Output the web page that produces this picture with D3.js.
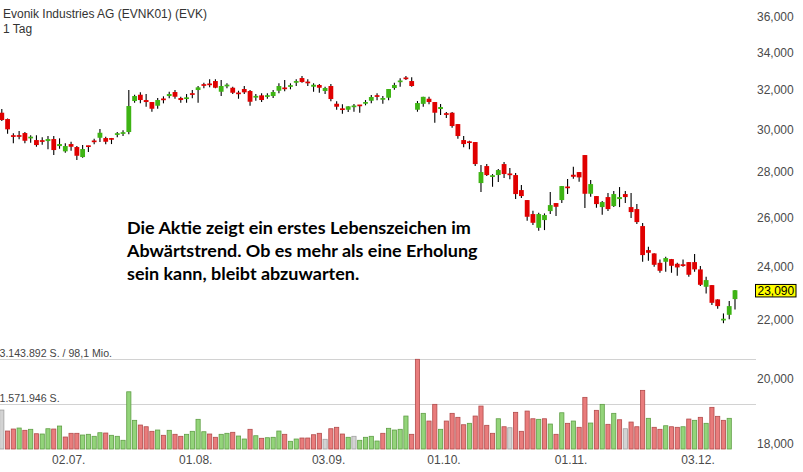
<!DOCTYPE html>
<html><head><meta charset="utf-8">
<script src="https://cdn.jsdelivr.net/npm/d3@7"></script>
<style>
html,body{margin:0;padding:0;background:#fff;}
svg{display:block;}
</style></head>
<body>
<svg id="chart" width="803" height="472"></svg>
<script>
// ---- data ----
const title = "Evonik Industries AG (EVNK01) (EVK)";
const subtitle = "1 Tag";
const openPrices = [
30813,30498,29676,29680,29812,29585,29474,29436,29426,29522,
29188,28938,29283,29141,28671,29190,29420,29584,29570,29570,
29755,29805,29861,31404,31727,31455,31353,31165,31498,31660,
31867,31557,31506,31799,31971,32240,32275,32441,31882,32180,
32090,31807,32023,31919,31615,31696,31652,31660,31934,32067,
32172,32352,32600,32375,32143,32232,31919,32180,31266,31033,
30963,31128,31190,31266,31419,31668,31470,31573,32075,32418,
32592,32441,30963,31261,31521,31353,30998,30755,30813,30250,
29474,29380,29379,27484,28254,27790,27844,28346,27885,27844,
27173,26735,26133,25557,25879,26260,26605,26735,27300,27858,
27980,28764,27010,26910,26432,26865,26475,26778,26997,26432,
26346,25628,24647,24515,24143,24183,24289,24104,24060,24171,
24171,23886,23220,23284,22749,21990,22186,22760];
const highPrices = [
30998,30530,29797,29909,29861,29700,29700,29604,29667,29667,
29556,29317,29393,29188,29236,29200,29536,30006,29633,29575,
29861,29943,31971,31727,31851,31763,31360,31557,31645,31882,
31971,31624,31763,31971,32180,32352,32530,32530,32493,32320,
32143,31934,32180,31971,31763,31799,31799,31971,32320,32493,
32320,32530,32706,32530,32320,32284,32143,32284,31389,31236,
31140,31251,31195,31455,31712,31799,31660,32030,32352,32584,
32706,32637,31404,31624,31624,31360,31251,30848,30848,30255,
29667,29441,29385,28300,28346,27889,28117,28438,28162,27934,
27395,26740,26274,26188,26162,27085,26610,27355,27663,28223,
27985,28770,27618,26915,26691,27041,27129,27306,27129,27041,
26561,25753,24780,24520,24278,24381,24295,24143,24278,24175,
24488,24014,23601,23290,22755,22236,22686,23095];
const lowPrices = [
30400,29778,29317,29508,29317,29346,29155,29250,29032,28764,
29060,28872,28966,28531,28638,28905,29270,29379,29270,29283,
29604,29667,29749,31317,31286,31115,30863,31013,31286,31541,
31521,31317,31317,31541,31317,32059,32111,32059,31660,32059,
31763,31521,31763,31165,31419,31353,31521,31557,31799,31903,
32008,32180,32352,32180,31882,31830,31763,31389,30963,30762,
30848,30863,30813,31185,31286,31440,31266,31440,31987,32143,
32493,32143,30863,31115,31236,30315,30697,30548,30070,29536,
29126,29032,28254,27085,27798,27319,27529,27708,27650,26778,
26822,25850,25670,25433,25462,26133,26049,26605,26997,27676,
27542,26389,26879,26401,26104,26261,26432,26432,26605,25964,
25712,24183,24222,23987,23755,23794,23755,23639,23987,23601,
23794,23246,22970,22539,22407,21886,22025,22382];
const closePrices = [
30449,29992,29657,29660,29441,29605,29236,29418,29522,28999,
29283,29188,29155,28731,29046,29175,29405,29826,29393,29488,
29770,29820,31150,31660,31455,31353,31013,31455,31482,31763,
31624,31455,31593,31727,32111,32225,32260,32090,32180,32232,
31830,31790,31851,31368,31632,31455,31668,31867,32180,32050,
32188,32441,32388,32360,32247,32090,32075,31506,31115,30948,
31135,31140,31175,31353,31609,31652,31557,32023,32232,32432,
32578,32180,31302,31619,31353,30813,31099,30740,30153,29667,
29283,29365,28346,27980,27844,27805,28071,27889,27870,26997,
26910,26019,25766,26133,26091,26518,26444,27350,27285,27767,
27740,27010,27439,26561,26648,26346,26997,26865,26865,26218,
25795,24448,24540,24065,23832,24329,24026,23963,24045,23678,
23886,23295,23474,22623,22502,22040,22502,23090];
const volumes = [
1365000,630000,700000,735000,655000,690000,535000,525000,710000,700000,
805000,420000,550000,550000,490000,515000,445000,570000,560000,480000,
445000,305000,2005000,1005000,840000,780000,620000,665000,480000,655000,
515000,445000,515000,620000,1040000,605000,525000,410000,515000,550000,
585000,455000,350000,690000,465000,375000,395000,410000,630000,515000,
270000,350000,385000,385000,500000,550000,340000,710000,760000,525000,
410000,445000,305000,410000,445000,280000,550000,725000,665000,690000,
1155000,515000,3143892,1250000,980000,1565000,690000,980000,1250000,1110000,
850000,900000,1155000,1505000,830000,550000,1060000,780000,745000,1285000,
620000,1330000,1060000,1040000,1060000,875000,515000,1270000,900000,980000,
760000,1810000,910000,1355000,1565000,865000,1250000,1025000,710000,945000,
780000,2055000,1075000,760000,690000,815000,780000,760000,780000,1050000,
1005000,1110000,900000,1460000,1145000,1005000,1075000,null];
// u = up day, d = down day, n = unchanged (colour of the volume bar)
const volumeDirection = [
"n","d","d","u","d","u","d","u","u","d",
"u","d","d","d","u","u","u","u","d","u",
"u","u","u","u","d","d","d","u","d","u",
"d","d","u","u","u","u","d","d","u","u",
"d","u","u","d","u","d","u","u","u","d",
"u","u","d","d","d","d","n","d","d","d",
"u","n","u","u","u","u","d","u","u","u",
"u","d","d","u","d","d","u","d","d","d",
"d","u","d","d","d","d","u","d","n","d",
"d","d","d","u","d","u","d","u","d","u",
"d","d","u","d","u","d","u","d","n","d",
"d","d","u","d","d","u","d","d","u","d",
"u","d","u","d","d","d","u",null];
const volumeMax = 3143892;
const volumeGridValues = [1571946, 3143892];
const volumeGridLabels = ["1.571.946 S.", "3.143.892 S. / 98,1 Mio."];
const priceTicks = [18000,20000,22000,24000,26000,28000,30000,32000,34000,36000];
const lastPrice = 23090;
const dateTickIndex = [12, 34, 57, 77, 99, 121];
const dateTickLabels = ["02.07.", "01.08.", "03.09.", "01.10.", "01.11.", "03.12."];
const noteLines = [
  "Die Aktie zeigt ein erstes Lebenszeichen im",
  "Abwärtstrend. Ob es mehr als eine Erholung",
  "sein kann, bleibt abzuwarten."
];

// ---- drawing ----
const svg = d3.select("#chart");
const FONT = "'Liberation Sans', Arial, sans-serif";
const n = closePrices.length;
const candles = d3.range(n).map(i => ({i, o: openPrices[i], h: highPrices[i], l: lowPrices[i], c: closePrices[i]}));

const x = d3.scaleLinear().domain([0, n - 1]).range([1.8, 735]);
const y = d3.scaleLog().domain([22000, 36000]).range([320, 17]);
const yv = d3.scaleLinear().domain([0, volumeMax]).range([449, 359.3]);

// volume grid lines
svg.append("g").selectAll("line").data(volumeGridValues).join("line")
  .attr("x1", 0).attr("x2", 756)
  .attr("y1", d => Math.round(yv(d)) + 0.5).attr("y2", d => Math.round(yv(d)) + 0.5)
  .attr("stroke", "#d2d2d2").attr("stroke-width", 1);
svg.append("g").selectAll("text").data(volumeGridValues).join("text")
  .attr("x", -0.5).attr("y", d => yv(d) - 2.5)
  .attr("font-family", FONT).attr("font-size", 10.6).attr("fill", "#444")
  .text((d, k) => volumeGridLabels[k]);

// volume bars
const volFill = {u: "#93d47a", d: "#e97c7c", n: "#d3d3d3"};
const volStroke = {u: "#5f9e45", d: "#b24b4b", n: "#a0a0a0"};
const volData = d3.range(n).filter(i => volumes[i] != null).map(i => ({i, v: volumes[i], dir: volumeDirection[i]}));
svg.append("g").selectAll("rect").data(volData).join("rect")
  .attr("x", d => x(d.i) - 2.1)
  .attr("y", d => yv(d.v))
  .attr("width", 4.2)
  .attr("height", d => yv(0) - yv(d.v))
  .attr("fill", d => volFill[d.dir])
  .attr("stroke", d => volStroke[d.dir])
  .attr("stroke-width", 0.8);

// candle wicks
svg.append("g").selectAll("line").data(candles).join("line")
  .attr("x1", d => x(d.i)).attr("x2", d => x(d.i))
  .attr("y1", d => y(d.h)).attr("y2", d => y(d.l))
  .attr("stroke", "#000").attr("stroke-width", 1.1);

// candle bodies
svg.append("g").selectAll("rect").data(candles).join("rect")
  .attr("x", d => x(d.i) - 2.4)
  .attr("width", 4.8)
  .attr("y", d => {
    const top = y(Math.max(d.o, d.c)), bot = y(Math.min(d.o, d.c));
    const h = bot - top;
    return h < 1.7 ? (top + bot) / 2 - 0.85 : top;
  })
  .attr("height", d => Math.max(1.7, y(Math.min(d.o, d.c)) - y(Math.max(d.o, d.c))))
  .attr("fill", d => d.c >= d.o ? "#3eb414" : "#e00000");

// right price axis
const axis = d3.axisRight(y).tickValues(priceTicks).tickSize(0).tickPadding(0)
  .tickFormat(d3.format(","));
const ag = svg.append("g").attr("transform", "translate(757,0)").call(axis);
ag.select(".domain").remove();
ag.selectAll("text").attr("font-family", FONT).attr("font-size", 12).attr("fill", "#4a4a4a")
  .attr("text-anchor", "start").attr("x", 0);

// last price marker
const ly = y(lastPrice);
svg.append("rect").attr("x", 755.5).attr("y", ly - 5.8).attr("width", 40.5).attr("height", 12.5)
  .attr("fill", "#ffff00").attr("stroke", "#000").attr("stroke-width", 1);
svg.append("text").attr("x", 757.5).attr("y", ly).attr("dy", "0.36em")
  .attr("font-family", FONT).attr("font-size", 12).attr("fill", "#000")
  .text(d3.format(",")(lastPrice));

// date axis labels
svg.append("g").selectAll("text").data(dateTickIndex).join("text")
  .attr("x", d => x(d) - 2.3).attr("y", 464)
  .attr("text-anchor", "middle")
  .attr("font-family", FONT).attr("font-size", 12).attr("fill", "#4a4a4a")
  .text((d, k) => dateTickLabels[k]);

// title
svg.append("text").attr("x", 3).attr("y", 18).attr("font-family", FONT).attr("font-size", 12)
  .attr("fill", "#333").text(title);
svg.append("text").attr("x", 3).attr("y", 33).attr("font-family", FONT).attr("font-size", 12)
  .attr("fill", "#333").text(subtitle);

// annotation
const note = svg.append("g").attr("font-family", "Lato, 'Open Sans', sans-serif")
  .attr("font-weight", "bold").attr("fill", "#000");
const noteText = note.selectAll("text").data(noteLines).join("text")
  .attr("x", 127).attr("y", (d, k) => 234 + k * 23)
  .attr("font-size", 16).text(d => d);
const w0 = noteText.node().getComputedTextLength();
const fs = 16 * 344 / w0;
noteText.attr("font-size", fs);
</script>
</body></html>
